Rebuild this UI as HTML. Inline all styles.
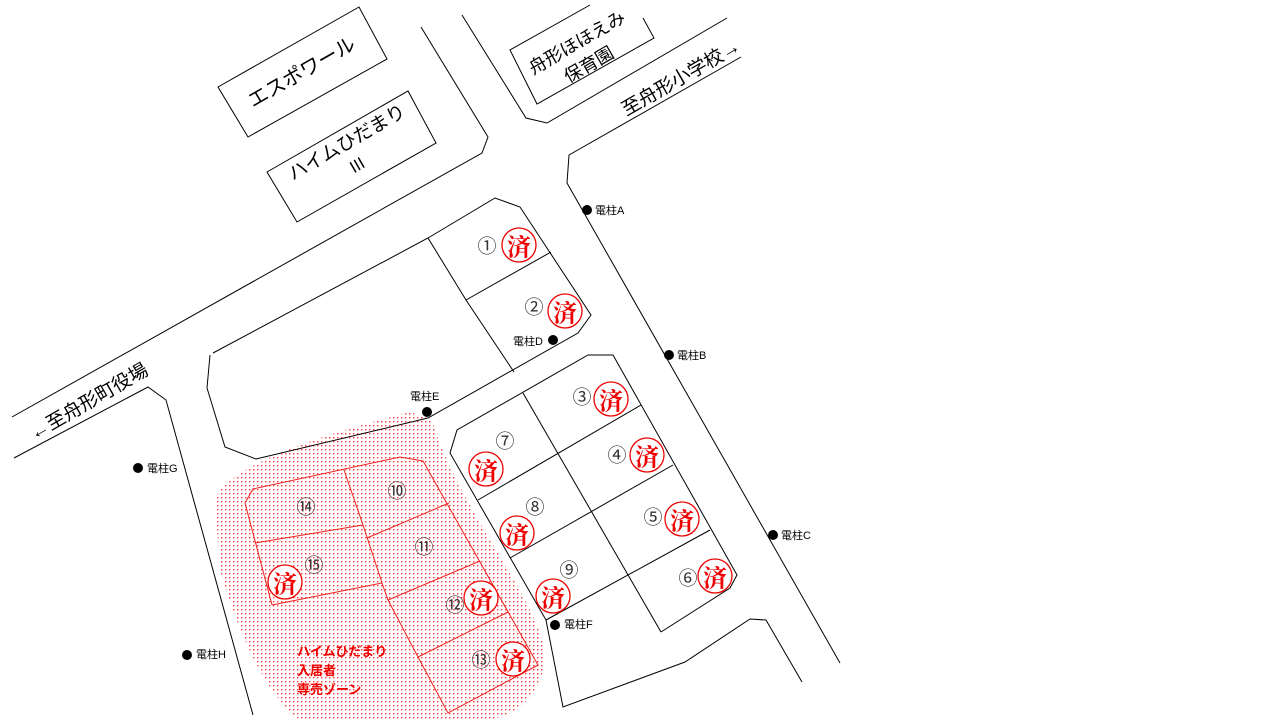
<!DOCTYPE html>
<html><head><meta charset="utf-8"><style>
html,body{margin:0;padding:0;background:#fff;width:1280px;height:720px;overflow:hidden}
svg{display:block}
text{font-family:"Liberation Sans","Noto Sans CJK JP",sans-serif}
.n{font-size:19px;fill:#333;text-anchor:middle;dominant-baseline:central}
.p{font-size:11px;fill:#000;dominant-baseline:central}
.sc{fill:#fff;stroke:#e00;stroke-width:1.3}
.stx{font-family:"Noto Serif CJK SC","Noto Sans CJK JP",serif;font-size:24px;fill:#e00;font-weight:bold;text-anchor:middle;dominant-baseline:central}
</style></head><body>
<svg width="1280" height="720" viewBox="0 0 1280 720" xmlns="http://www.w3.org/2000/svg">
<defs>
<pattern id="dots" width="4" height="4" patternUnits="userSpaceOnUse"><rect x="1" y="1" width="1.4" height="1.4" fill="#f33"/></pattern>
</defs>
<path d="M215,500 C225,470 300,440 410,412 L432,420 C440,450 460,490 490,540 C520,590 545,630 545,660 C540,700 510,720 480,720 L300,720 C260,690 235,620 220,570 Z" fill="url(#dots)"/>
<g fill="none" stroke="#000" stroke-width="1">
<polygon points="218,87 359,7 387,59 248,137"/>
<polygon points="267,172 408,91 436,143 297,222"/>
<polyline points="590,5 510,50 537,104 654,38 643,18"/>
<polyline points="421,27 488,137 482,153 12,417"/>
<polyline points="462,15 526,118 547,123 727,18"/>
<polyline points="741,57 569,155 567,183 840,663"/>
<polyline points="14,458 148,387 166,400 253,715"/>
<polyline points="213,353 428,238 495,198 520,207 591,315 578,333 428,418 256,459 225,447 207,388 210,355"/>
<polyline points="428,238 466,300 514,372"/>
<line x1="466" y1="300" x2="551" y2="252"/>
<polyline points="588,355 613,355 737,575 730,588 661,632"/>
<polyline points="613,355 588,355 457,430 450,453 546,620 563,707 685,662 750,619 766,620 802,682"/>
<line x1="523" y1="393" x2="661" y2="632"/>
<line x1="478" y1="500" x2="641" y2="405"/>
<line x1="510" y1="558" x2="673" y2="465"/>
<line x1="546" y1="620" x2="710" y2="530"/>
</g>
<g fill="none" stroke="#e22" stroke-width="1">
<polyline points="272,605 245,503 253,489 400,457 423,461 538,665 448,713 418,657 388,600 382,583 363,525 344,470"/>
<line x1="255" y1="543" x2="363" y2="525"/>
<line x1="272" y1="605" x2="382" y2="583"/>
<line x1="367" y1="538" x2="449" y2="503"/>
<line x1="388" y1="600" x2="480" y2="561"/>
<line x1="418" y1="657" x2="508" y2="612"/>
</g>
<g fill="#000">
<text transform="translate(305,78) rotate(-30)" text-anchor="middle" font-size="20">エスポワール</text>
<text transform="translate(350,148) rotate(-30)" text-anchor="middle" font-size="19">ハイムひだまり</text>
<text transform="translate(360,170) rotate(-30)" text-anchor="middle" font-size="16">Ⅲ</text>
<text transform="translate(580,48) rotate(-30)" text-anchor="middle" font-size="18">舟形ほほえみ</text>
<text transform="translate(592,70) rotate(-30)" text-anchor="middle" font-size="18">保育園</text>
<text transform="translate(684,83) rotate(-30)" text-anchor="middle" font-size="19">至舟形小学校→</text>
<text transform="translate(92,407) rotate(-30)" text-anchor="middle" font-size="19">←至舟形町役場</text>
</g>
<g fill="#000">
<circle cx="587" cy="210" r="5"/><text class="p" x="595" y="211">電柱A</text>
<circle cx="669" cy="355" r="5"/><text class="p" x="677" y="356">電柱B</text>
<circle cx="773" cy="535" r="5"/><text class="p" x="781" y="536">電柱C</text>
<circle cx="553" cy="340" r="5"/><text class="p" x="513" y="342">電柱D</text>
<circle cx="427" cy="412" r="5"/><text class="p" x="410" y="397">電柱E</text>
<circle cx="555" cy="625" r="5"/><text class="p" x="564" y="625">電柱F</text>
<circle cx="138" cy="468" r="5"/><text class="p" x="147" y="469">電柱G</text>
<circle cx="187" cy="655" r="5"/><text class="p" x="196" y="655">電柱H</text>
</g>
<text class="n" x="487" y="247">①</text>
<text class="n" x="534" y="308">②</text>
<text class="n" x="582" y="398">③</text>
<text class="n" x="617" y="456">④</text>
<text class="n" x="653" y="518">⑤</text>
<text class="n" x="688" y="579">⑥</text>
<text class="n" x="505" y="442">⑦</text>
<text class="n" x="535" y="508">⑧</text>
<text class="n" x="569" y="571">⑨</text>
<text class="n" x="397" y="492">⑩</text>
<text class="n" x="424" y="548">⑪</text>
<text class="n" x="455" y="606">⑫</text>
<text class="n" x="481" y="661">⑬</text>
<text class="n" x="306" y="508">⑭</text>
<text class="n" x="314" y="566">⑮</text>
<g>
<circle class="sc" cx="519" cy="245" r="17"/><text class="stx" x="519" y="245">済</text>
<circle class="sc" cx="565" cy="311" r="17"/><text class="stx" x="565" y="311">済</text>
<circle class="sc" cx="611" cy="399" r="17"/><text class="stx" x="611" y="399">済</text>
<circle class="sc" cx="647" cy="455" r="17"/><text class="stx" x="647" y="455">済</text>
<circle class="sc" cx="682" cy="519" r="17"/><text class="stx" x="682" y="519">済</text>
<circle class="sc" cx="715" cy="576" r="17"/><text class="stx" x="715" y="576">済</text>
<circle class="sc" cx="486" cy="469" r="17"/><text class="stx" x="486" y="469">済</text>
<circle class="sc" cx="517" cy="533" r="17"/><text class="stx" x="517" y="533">済</text>
<circle class="sc" cx="553" cy="596" r="17"/><text class="stx" x="553" y="596">済</text>
<circle class="sc" cx="481" cy="598" r="17"/><text class="stx" x="481" y="598">済</text>
<circle class="sc" cx="513" cy="659" r="17"/><text class="stx" x="513" y="659">済</text>
<circle class="sc" cx="285" cy="582" r="17"/><text class="stx" x="285" y="582">済</text>
</g>
<g font-size="13" font-weight="bold" fill="#e00">
<text x="297" y="656">ハイムひだまり</text>
<text x="297" y="675">入居者</text>
<text x="297" y="694">専売ゾーン</text>
</g>
</svg>
</body></html>
